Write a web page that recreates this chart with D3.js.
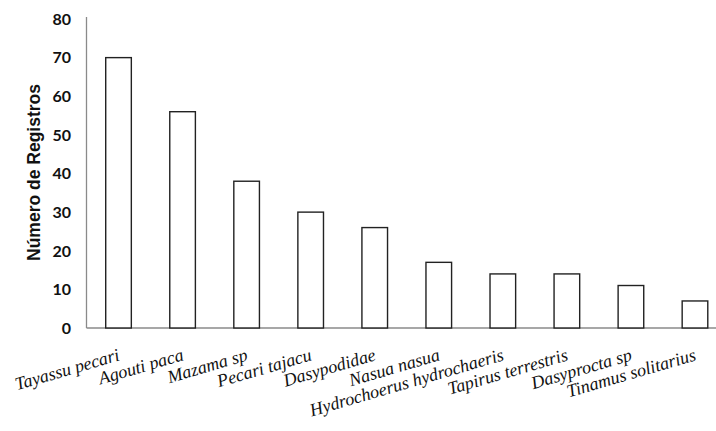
<!DOCTYPE html>
<html><head><meta charset="utf-8">
<script src="https://cdn.jsdelivr.net/npm/d3@7"></script>
<style>body{margin:0;background:#fff;}svg{display:block;}</style>
</head><body>
<svg id="c" width="716" height="431"></svg>
<script>
const categories = ["Tayassu pecari","Agouti paca","Mazama sp","Pecari tajacu","Dasypodidae","Nasua nasua","Hydrochoerus hydrochaeris","Tapirus terrestris","Dasyprocta sp","Tinamus solitarius"];
const values = [70,56,38,30,26,17,14,14,11,7];
const yTicks = [0,10,20,30,40,50,60,70,80];
const yTitle = "Número de Registros";

const svg = d3.select("#c");
const pL = 86.5, pR = 727, pT = 19, pB = 328;
const x = d3.scaleBand().domain(categories).range([pL, pR]).paddingInner(0.6).paddingOuter(0.3);
const y = d3.scaleLinear().domain([0,80]).range([pB, pT]);

// axes lines
svg.append("line").attr("x1",pL).attr("x2",pL).attr("y1",17).attr("y2",pB).attr("stroke","#8a8a8a").attr("stroke-width",1.3);
svg.append("line").attr("x1",pL).attr("x2",716).attr("y1",pB).attr("y2",pB).attr("stroke","#8a8a8a").attr("stroke-width",1.3);

// bars
svg.selectAll("rect.bar").data(categories).enter().append("rect")
  .attr("x", d => x(d))
  .attr("width", x.bandwidth())
  .attr("y", (d,i) => y(values[i]))
  .attr("height", (d,i) => pB - y(values[i]))
  .attr("fill","#fff").attr("stroke","#222").attr("stroke-width",1.4);

// y tick labels
svg.selectAll("text.yt").data(yTicks).enter().append("text")
  .attr("x", 71).attr("y", d => y(d)).attr("dy","0.36em")
  .attr("text-anchor","end")
  .attr("font-family","Lato, 'Open Sans', sans-serif").attr("font-weight","bold")
  .attr("font-size","16px").attr("fill","#111")
  .text(d => d);

// y title
svg.append("text")
  .attr("transform", `translate(39.5,${(pT+pB)/2 - 1}) rotate(-90)`)
  .attr("text-anchor","middle")
  .attr("font-family","'Liberation Sans', Arial, sans-serif").attr("font-weight","bold")
  .attr("font-size","17.5px").attr("fill","#111")
  .text(yTitle);

// x labels
svg.selectAll("text.xl").data(categories).enter().append("text")
  .attr("transform", d => `translate(${x(d)+x.bandwidth()/2+2},360) rotate(-16.3)`)
  .attr("text-anchor","end")
  .attr("font-family","'Liberation Serif', 'Times New Roman', serif").attr("font-style","italic")
  .attr("font-size","18px").attr("fill","#111")
  .text(d => d);
</script>
</body></html>
